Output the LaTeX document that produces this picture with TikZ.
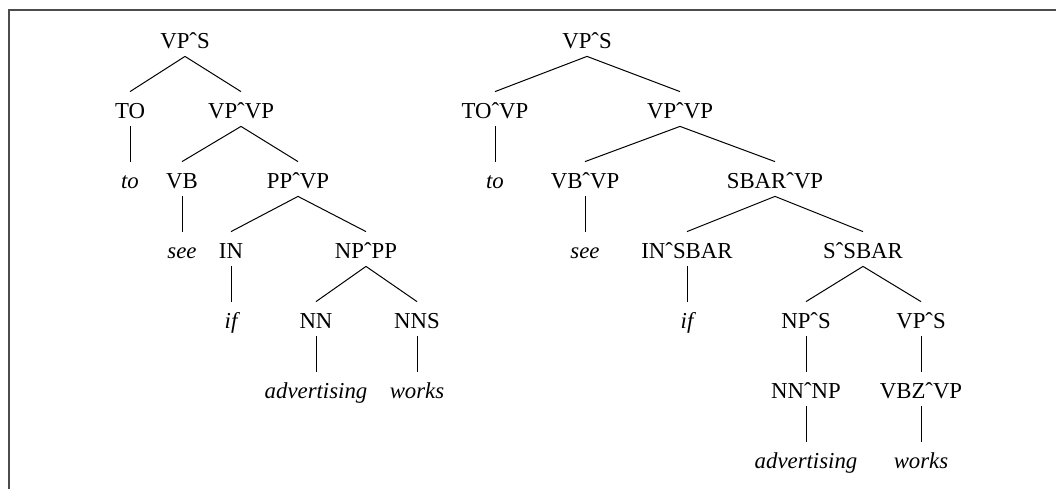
\documentclass[tikz,border=0pt]{standalone}
\usepackage{fontspec}
\setmainfont{Liberation Serif}
\usetikzlibrary{positioning}

\begin{document}
\begin{tikzpicture}[x=0.5pt, y=0.5pt, node distance=35pt, on grid,
  tag node/.style={inner sep=0pt, text height=13pt, text depth=4pt,
    font=\fontsize{11.4}{13}\selectfont},
  word node/.style={tag node, font=\fontsize{11.4}{13}\selectfont\itshape}]

\useasboundingbox (0,0) rectangle (1056,-489);
\draw[line width=1pt, black!70] (8.5,-489) -- (8.5,-9.5) -- (1056,-9.5);

% left tree
\node[tag node] (lvps) at (185,-39) {VPˆS};
\node[tag node] (lto) [below left=35pt and 27.5pt of lvps] {TO};
\node[tag node] (lvpvp) [below right=35pt and 28pt of lvps] {VPˆVP};
\node[word node] (lwto) [below=of lto] {to};
\node[tag node] (lvb) [below left=35pt and 29.5pt of lvpvp] {VB};
\node[tag node] (lppvp) [below right=35pt and 28.5pt of lvpvp] {PPˆVP};
\node[word node] (lwsee) [below=of lvb] {see};
\node[tag node] (lin) [below left=35pt and 33.5pt of lppvp] {IN};
\node[tag node] (lnppp) [below right=35pt and 34pt of lppvp] {NPˆPP};
\node[word node] (lwif) [below=of lin] {if};
\node[tag node] (lnn) [below left=35pt and 25pt of lnppp] {NN};
\node[tag node] (lnns) [below right=35pt and 25.5pt of lnppp] {NNS};
\node[word node] (lwadv) [below=of lnn] {advertising};
\node[word node] (lwworks) [below=of lnns] {works};

% right tree
\node[tag node] (rvps) at (587,-39) {VPˆS};
\node[tag node] (rtovp) [below left=35pt and 46pt of rvps] {TOˆVP};
\node[tag node] (rvpvp) [below right=35pt and 46.5pt of rvps] {VPˆVP};
\node[word node] (rwto) [below=of rtovp] {to};
\node[tag node] (rvbvp) [below left=35pt and 47.5pt of rvpvp] {VBˆVP};
\node[tag node] (rsbarvp) [below right=35pt and 47.5pt of rvpvp] {SBARˆVP};
\node[word node] (rwsee) [below=of rvbvp] {see};
\node[tag node] (rinsbar) [below left=35pt and 44pt of rsbarvp] {INˆSBAR};
\node[tag node] (rssbar) [below right=35pt and 44pt of rsbarvp] {SˆSBAR};
\node[word node] (rwif) [below=of rinsbar] {if};
\node[tag node] (rnps) [below left=35pt and 28.5pt of rssbar] {NPˆS};
\node[tag node] (rvps2) [below right=35pt and 29pt of rssbar] {VPˆS};
\node[tag node] (rnnnp) [below=of rnps] {NNˆNP};
\node[tag node] (rvbzvp) [below=of rvps2] {VBZˆVP};
\node[word node] (rwadv) [below=of rnnnp] {advertising};
\node[word node] (rwworks) [below=of rvbzvp] {works};

\path[line width=0.5pt]
(lvps.south) edge (lto.north)
(lvps.south) edge (lvpvp.north)
(lto.south) edge (lwto.north)
(lvpvp.south) edge (lvb.north)
(lvpvp.south) edge (lppvp.north)
(lvb.south) edge (lwsee.north)
(lppvp.south) edge (lin.north)
(lppvp.south) edge (lnppp.north)
(lin.south) edge (lwif.north)
(lnppp.south) edge (lnn.north)
(lnppp.south) edge (lnns.north)
(lnn.south) edge (lwadv.north)
(lnns.south) edge (lwworks.north)
;

\path[line width=0.5pt]
(rvps.south) edge (rtovp.north)
(rvps.south) edge (rvpvp.north)
(rtovp.south) edge (rwto.north)
(rvpvp.south) edge (rvbvp.north)
(rvpvp.south) edge (rsbarvp.north)
(rvbvp.south) edge (rwsee.north)
(rsbarvp.south) edge (rinsbar.north)
(rsbarvp.south) edge (rssbar.north)
(rinsbar.south) edge (rwif.north)
(rssbar.south) edge (rnps.north)
(rssbar.south) edge (rvps2.north)
(rnps.south) edge (rnnnp.north)
(rvps2.south) edge (rvbzvp.north)
(rnnnp.south) edge (rwadv.north)
(rvbzvp.south) edge (rwworks.north)
;

\end{tikzpicture}
\end{document}
